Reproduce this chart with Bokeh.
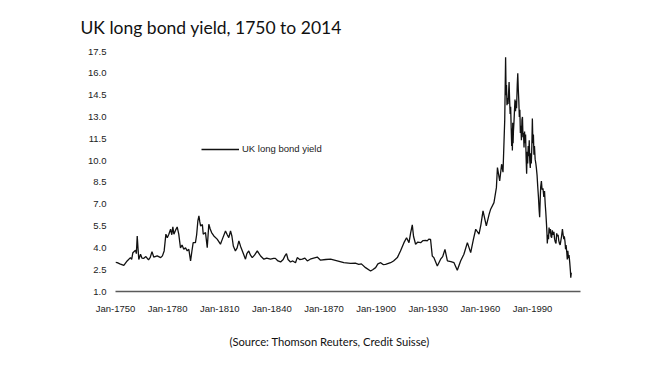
from bokeh.plotting import figure
from bokeh.models import Range1d, FixedTicker, PrintfTickFormatter, Title
from bokeh.embed import file_html
from bokeh.resources import INLINE

# ---- data ----
years = [
    1750.0, 1751.0, 1752.5, 1754.8, 1756.7, 1758.6, 1759.3, 1760.0, 1761.5, 1762.0,
    1762.5, 1763.0, 1763.4, 1764.4, 1765.2, 1766.3, 1767.5, 1769.0, 1770.0, 1771.0,
    1772.0, 1774.0, 1776.0, 1777.0, 1778.0, 1779.0, 1779.8, 1780.7, 1781.7, 1782.4,
    1783.0, 1783.6, 1784.5, 1785.5, 1786.4, 1787.4, 1788.3, 1789.3, 1790.3, 1791.3,
    1792.2, 1793.2, 1794.0, 1794.7, 1796.0, 1796.7, 1797.4, 1798.0, 1798.5, 1799.0,
    1800.0, 1800.5, 1801.8, 1802.8, 1803.7, 1804.5, 1805.3, 1806.6, 1808.5, 1810.4,
    1811.5, 1813.3, 1814.3, 1815.2, 1816.2, 1817.0, 1817.8, 1819.0, 1820.0, 1821.0,
    1822.0, 1823.0, 1824.8, 1825.6, 1826.7, 1827.7, 1828.7, 1830.0, 1831.6, 1833.5,
    1835.4, 1837.0, 1839.2, 1841.0, 1842.0, 1843.5, 1845.0, 1846.5, 1847.5, 1848.4,
    1849.3, 1850.7, 1852.0, 1853.6, 1854.6, 1856.0, 1857.5, 1859.0, 1860.4, 1862.5,
    1864.0, 1866.1, 1868.0, 1871.0, 1873.8, 1877.6, 1881.4, 1885.3, 1888.0, 1890.0,
    1891.5, 1893.9, 1896.8, 1898.0, 1899.7, 1901.0, 1902.6, 1904.0, 1905.4, 1908.3,
    1910.0, 1912.2, 1914.0, 1916.0, 1917.5, 1918.9, 1919.8, 1920.8, 1921.5, 1922.7,
    1924.0, 1925.6, 1927.0, 1928.5, 1929.4, 1930.3, 1931.3, 1932.3, 1933.2, 1935.2,
    1937.1, 1938.3, 1939.6, 1941.0, 1943.0, 1944.8, 1946.7, 1948.6, 1950.5, 1952.5,
    1954.4, 1956.0, 1957.3, 1959.2, 1960.3, 1961.5, 1963.4, 1965.0, 1965.9, 1967.8,
    1969.2, 1969.8, 1971.1, 1972.2, 1973.0, 1973.6, 1974.0,
    1974.5, 1974.8, 1975.0, 1975.3, 1975.6, 1975.9, 1976.2, 1976.5, 1976.8, 1977.1,
    1977.4, 1977.7, 1978.0, 1978.2, 1978.4, 1978.6, 1978.8, 1979.0, 1979.3, 1979.6,
    1979.9, 1980.2, 1980.5, 1980.8, 1981.2, 1981.5, 1981.8, 1982.1, 1982.4, 1982.7,
    1983.0, 1983.3, 1983.6, 1983.9, 1984.2, 1984.5, 1984.8, 1985.1, 1985.4, 1985.7,
    1986.0, 1986.3, 1986.6, 1986.9, 1987.2, 1987.5, 1987.8, 1988.1, 1988.4, 1988.7,
    1989.0, 1989.3, 1989.6, 1989.9, 1990.2, 1990.5, 1990.8, 1991.1, 1991.5, 1991.9,
    1992.2, 1992.6, 1993.0, 1993.4, 1993.8, 1994.1, 1994.4, 1994.7, 1995.1, 1995.5,
    1996.0, 1996.5, 1996.9, 1997.3, 1997.6, 1998.0, 1998.3, 1998.5, 1998.8, 1999.2,
    1999.5, 1999.9, 2000.3, 2000.6, 2001.0, 2001.4, 2001.8, 2002.3, 2002.7, 2003.1,
    2003.5, 2003.9, 2004.3, 2004.7, 2005.1, 2005.5, 2005.9, 2006.3, 2006.7, 2007.2,
    2007.6, 2008.0, 2008.3, 2008.7, 2009.0, 2009.3, 2009.7, 2010.0, 2010.3, 2010.7,
    2011.0, 2011.4, 2011.8, 2012.0, 2012.3,
]
yields = [
    3.00, 2.98, 2.90, 2.80, 3.10, 3.33, 3.20, 3.67, 3.84, 3.60,
    4.82, 3.90, 3.20, 3.56, 3.30, 3.28, 3.40, 3.17, 3.35, 3.74,
    3.37, 3.45, 3.33, 3.45, 3.79, 4.94, 4.70, 4.94, 5.28, 4.90,
    5.44, 4.94, 5.20, 5.44, 4.94, 4.00, 4.20, 3.90, 4.00, 3.79,
    3.90, 3.10, 3.80, 4.36, 4.36, 4.90, 5.85, 6.20, 5.80, 5.50,
    5.60, 4.94, 5.05, 4.01, 5.62, 5.30, 5.05, 4.82, 4.60, 4.25,
    4.60, 5.16, 4.90, 4.70, 5.16, 4.80, 4.13, 3.79, 4.00, 4.48,
    4.10, 3.79, 3.22, 3.60, 3.79, 3.50, 3.33, 3.50, 3.79, 3.44,
    3.22, 3.30, 3.22, 3.28, 3.28, 3.10, 3.03, 3.20, 3.45, 3.60,
    3.20, 3.03, 3.10, 2.98, 3.33, 3.20, 3.22, 3.30, 3.10, 3.25,
    3.30, 3.37, 3.15, 3.20, 3.22, 3.10, 2.98, 2.94, 2.95, 2.87,
    2.90, 2.64, 2.41, 2.50, 2.64, 2.90, 2.98, 2.85, 2.87, 2.98,
    3.10, 3.33, 3.79, 4.36, 4.70, 4.36, 5.00, 5.58, 4.80, 4.25,
    4.40, 4.36, 4.50, 4.52, 4.48, 4.60, 4.59, 3.44, 3.33, 2.75,
    3.22, 3.40, 3.90, 3.10, 3.05, 2.98, 2.46, 3.10, 3.56, 4.36,
    3.67, 4.60, 5.28, 4.94, 5.60, 6.54, 5.51, 6.30, 6.66, 7.11,
    8.14, 9.52, 8.60, 9.75, 9.20, 11.36, 12.80,
    17.10, 14.50, 15.20, 13.80, 14.30, 13.90, 14.60, 15.40, 14.20, 13.20,
    13.70, 12.30, 11.00, 12.20, 10.70, 12.60, 11.20, 12.00, 12.60, 13.40,
    14.20, 13.40, 14.10, 13.60, 15.20, 16.00, 14.90, 14.10, 13.00, 13.50,
    11.90, 12.40, 11.40, 12.80, 13.00, 11.60, 11.90, 10.90, 12.00, 11.20,
    11.80, 10.20, 9.10, 10.60, 9.80, 11.00, 10.30, 11.40, 10.00, 9.50,
    10.50, 9.80, 11.00, 12.90, 11.20, 11.80, 10.40, 11.00, 10.10, 9.80,
    9.50, 9.00, 8.20, 7.50, 6.60, 6.10, 7.30, 8.20, 8.60, 8.00,
    8.10, 7.50, 7.90, 7.00, 6.50, 5.70, 5.00, 4.30, 4.90, 4.60,
    5.40, 5.00, 5.30, 4.80, 4.70, 5.20, 4.90, 5.10, 4.60, 4.40,
    4.30, 5.00, 4.80, 4.90, 4.50, 4.30, 4.20, 4.50, 4.80, 5.30,
    4.90, 4.60, 4.80, 4.40, 3.90, 4.20, 3.70, 3.20, 3.80, 3.30,
    3.50, 3.00, 2.40, 1.95, 2.30,
]
x_tick_years = [1750, 1780, 1810, 1840, 1870, 1900, 1930, 1960, 1990]
x_tick_labels = ["Jan-1750", "Jan-1780", "Jan-1810", "Jan-1840", "Jan-1870",
                 "Jan-1900", "Jan-1930", "Jan-1960", "Jan-1990"]
y_ticks = [1.0, 2.5, 4.0, 5.5, 7.0, 8.5, 10.0, 11.5, 13.0, 14.5, 16.0, 17.5]
series_name = "UK long bond yield"
title_text = "UK long bond yield, 1750 to 2014"
source_text = "(Source: Thomson Reuters, Credit Suisse)"

AXIS_FONT = "Liberation Sans"

p = figure(width=657, height=365, output_backend="svg", toolbar_location=None,
           x_range=Range1d(1750, 2017.6), y_range=Range1d(1.0, 17.5),
           min_border_left=115, min_border_right=77, min_border_top=51,
           min_border_bottom=74)
p.outline_line_color = None
p.xgrid.visible = False
p.ygrid.visible = False
p.background_fill_color = "white"
p.border_fill_color = "white"

p.line(years, yields, line_color="#111111", line_width=1.3, legend_label=series_name)

# x axis
xa = p.xaxis[0]
xa.ticker = FixedTicker(ticks=x_tick_years)
xa.major_label_overrides = {y: l for y, l in zip(x_tick_years, x_tick_labels)}
xa.axis_line_color = "#5a5a5a"
xa.axis_line_width = 1.3
xa.major_tick_line_color = None
xa.minor_tick_line_color = None
xa.major_tick_out = 0
xa.major_tick_in = 0
xa.major_label_standoff = 11
xa.major_label_text_font = AXIS_FONT
xa.major_label_text_font_size = "9.5px"
xa.major_label_text_color = "#222222"

# y axis
ya = p.yaxis[0]
ya.ticker = FixedTicker(ticks=y_ticks)
ya.formatter = PrintfTickFormatter(format="%.1f")
ya.axis_line_color = None
ya.major_tick_line_color = None
ya.minor_tick_line_color = None
ya.major_tick_out = 0
ya.major_tick_in = 0
ya.major_label_standoff = 9
ya.major_label_text_font = AXIS_FONT
ya.major_label_text_font_size = "9.5px"
ya.major_label_text_color = "#222222"

# legend
lg = p.legend[0]
lg.location = (86, 137)
lg.padding = 0
lg.margin = 0
lg.border_line_color = None
lg.background_fill_alpha = 0
lg.glyph_width = 38
lg.glyph_height = 10
lg.label_height = 10
lg.label_standoff = 3
lg.label_text_font = AXIS_FONT
lg.label_text_font_size = "9.5px"
lg.label_text_color = "#222222"

# title and source
p.title.text = title_text
p.title.align = "left"
p.title.offset = -35
p.title.text_font = "Lato"
p.title.text_font_style = "normal"
p.title.text_font_size = "17.5px"
p.title.text_color = "#111111"
p.title.standoff = 28

p.add_layout(Title(text=source_text, align="left", offset=114, text_font="Lato",
                   text_font_style="normal", text_font_size="11.2px",
                   text_color="#111111", standoff=32), "below")

open("out.html", "w").write(file_html(p, INLINE))
